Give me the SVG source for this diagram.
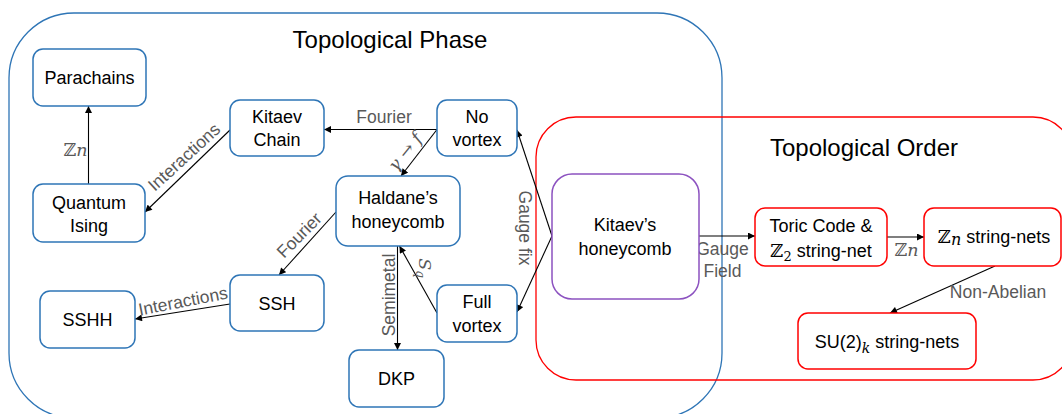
<svg xmlns="http://www.w3.org/2000/svg" width="1062" height="414" viewBox="0 0 1062 414">
<defs>
<marker id="ah" viewBox="0 0 10 10" refX="10" refY="5" markerWidth="8" markerHeight="7" markerUnits="userSpaceOnUse" orient="auto">
<path d="M0,0 L10,5 L0,10 z" fill="#000"/>
</marker>
<style>
.c{fill:none;stroke-width:1.3}
.bn{fill:#fff;stroke:#2E75B6;stroke-width:1.5}
.rn{fill:#fff;stroke:#FF0000;stroke-width:1.5}
.pn{fill:#fff;stroke:#8C52C0;stroke-width:1.5}
.t{font-family:"Liberation Sans",Arial,sans-serif;font-size:18px;fill:#000;text-anchor:middle}
.h{font-family:"Liberation Sans",Arial,sans-serif;font-size:24px;fill:#000;text-anchor:middle}
.l{font-family:"Liberation Sans",Arial,sans-serif;font-size:17.5px;fill:#595959;text-anchor:middle}
.m{font-family:"DejaVu Serif",serif}
.i{font-style:italic}
.e{stroke:#000;stroke-width:1.1;fill:none;marker-end:url(#ah)}
</style>
</defs>
<rect id="phase" class="c" x="9" y="13" width="713" height="405" rx="65" stroke="#2E75B6"/>
<rect id="order" class="c" x="536" y="117" width="537" height="263" rx="40" stroke="#FF0000"/>
<text class="h" x="390" y="48">Topological Phase</text>
<text class="h" x="864" y="156">Topological Order</text>

<g id="connectors">
<line class="e" x1="437" y1="129.5" x2="324" y2="129.5"/>
<line class="e" x1="437" y1="129.5" x2="401" y2="176"/>
<line class="e" x1="230" y1="130" x2="145" y2="212"/>
<line class="e" x1="88.5" y1="184" x2="88.5" y2="106"/>
<line class="e" x1="336" y1="212" x2="279" y2="275"/>
<line class="e" x1="230" y1="304" x2="135" y2="319"/>
<line class="e" x1="397.5" y1="246" x2="397.5" y2="350"/>
<line class="e" x1="437" y1="313" x2="399.5" y2="246"/>
<line class="e" x1="552" y1="236" x2="517" y2="130"/>
<line class="e" x1="552" y1="236" x2="517" y2="312"/>
<line class="e" x1="699" y1="236" x2="755" y2="236"/>
<line class="e" x1="887" y1="237" x2="924" y2="237"/>
<line class="e" x1="995" y1="266" x2="890" y2="313"/>
<text class="l" x="384" y="123">Fourier</text>
<text class="l m i" font-size="16" transform="translate(405,152) rotate(-51)" dy="0.35em">γ → f</text>
<text class="l" transform="translate(184,157) rotate(-42.5)" dy="0.35em">Interactions</text>
<text class="l m" font-size="17" x="75.5" y="156">ℤ<tspan class="i">n</tspan></text>
<text class="l" transform="translate(299,235) rotate(-45.5)" dy="0.35em">Fourier</text>
<text class="l" transform="translate(183,301) rotate(-11)" dy="0.35em">Interactions</text>
<text class="l" font-size="16.5" transform="translate(388.7,295) rotate(-90)" dy="0.35em">Semimetal</text>
<text class="l m i" font-size="16" transform="translate(425,268) rotate(90)" dy="0.35em">S<tspan font-size="12" dy="3">q</tspan></text>
<text class="l" transform="translate(525,228) rotate(90)" dy="0.35em">Gauge fix</text>
<text class="l" font-size="16" x="722.5" y="255">Gauge</text>
<text class="l" font-size="16" x="722.5" y="277">Field</text>
<text class="l m" font-size="17" x="906.5" y="256">ℤ<tspan class="i">n</tspan></text>
<text class="l" font-size="14" x="998" y="298">Non-Abelian</text>
</g>

<g id="parachains"><rect class="bn" x="33" y="49" width="113" height="57" rx="10"/><text class="t" x="89.5" y="84">Parachains</text></g>
<g id="kitaev-chain"><rect class="bn" x="230" y="100" width="94" height="56" rx="10"/><text class="t" x="277" y="123">Kitaev</text><text class="t" x="277" y="146">Chain</text></g>
<g id="no-vortex"><rect class="bn" x="437" y="100" width="80" height="56" rx="10"/><text class="t" x="477" y="123">No</text><text class="t" x="477" y="146">vortex</text></g>
<g id="haldane"><rect class="bn" x="336" y="176" width="124" height="70" rx="12"/><text class="t" x="398" y="204">Haldane’s</text><text class="t" x="398" y="228">honeycomb</text></g>
<g id="quantum-ising"><rect class="bn" x="33" y="184" width="112" height="58" rx="10"/><text class="t" x="89" y="209">Quantum</text><text class="t" x="89" y="232">Ising</text></g>
<g id="ssh"><rect class="bn" x="230" y="275" width="94" height="56" rx="10"/><text class="t" x="277" y="310">SSH</text></g>
<g id="sshh"><rect class="bn" x="40" y="291" width="95" height="57" rx="10"/><text class="t" x="87.5" y="326">SSHH</text></g>
<g id="full-vortex"><rect class="bn" x="437" y="285" width="80" height="57" rx="10"/><text class="t" x="477" y="308">Full</text><text class="t" x="477" y="332">vortex</text></g>
<g id="dkp"><rect class="bn" x="349" y="350" width="95" height="57" rx="10"/><text class="t" x="396.5" y="385">DKP</text></g>

<g id="kitaev-honeycomb"><rect class="pn" x="552" y="174" width="147" height="125" rx="20"/><text class="t" x="625" y="231">Kitaev’s</text><text class="t" x="625" y="255">honeycomb</text></g>
<g id="toric-code"><rect class="rn" x="755" y="208" width="132" height="58" rx="10"/><text class="t" x="821" y="232">Toric Code &amp;</text><text class="t" x="821" y="257"><tspan class="m">ℤ</tspan><tspan class="m" font-size="13" dy="4">2</tspan><tspan dy="-4"> string-net</tspan></text></g>
<g id="zn-string-nets"><rect class="rn" x="924" y="208" width="137" height="58" rx="10"/><text class="t" x="994" y="243"><tspan class="m">ℤ</tspan><tspan class="m i" font-size="16" dy="2">n</tspan><tspan dy="-2"> string-nets</tspan></text></g>
<g id="su2k-string-nets"><rect class="rn" x="798" y="313" width="178" height="56" rx="10"/><text class="t" x="887" y="348">SU(2)<tspan class="m i" font-size="14" dy="5">k</tspan><tspan dy="-5"> string-nets</tspan></text></g>
</svg>
